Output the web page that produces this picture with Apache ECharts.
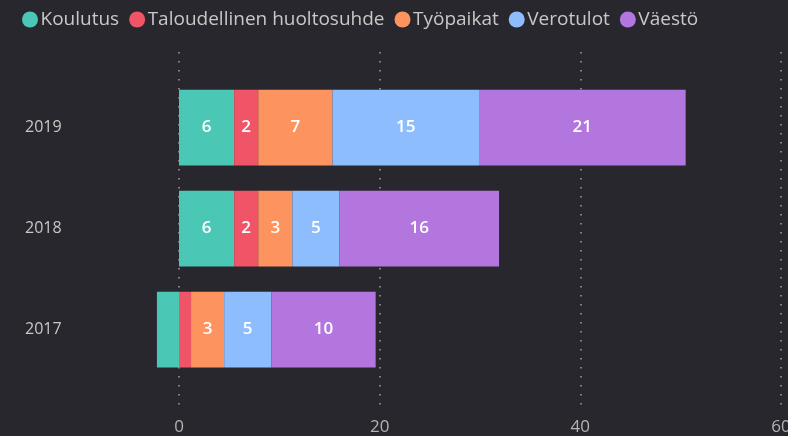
<!DOCTYPE html>
<html>
<head>
<meta charset="utf-8">
<script src="https://cdn.jsdelivr.net/npm/echarts@6/dist/echarts.min.js"></script>
<style>
    html, body { margin: 0; padding: 0; background: #28272d; }
    #chart { width: 788px; height: 436px; }
</style>
</head>
<body>
<div id="chart"></div>
<script>
// categories, bottom to top
const years = ['2017', '2018', '2019'];

const seriesNames = ['Koulutus', 'Taloudellinen huoltosuhde', 'Työpaikat', 'Verotulot', 'Väestö'];
const koulutus = [-2.2, 5.5, 5.5];
const talous = [1.2, 2.4, 2.4];
const tyopaikat = [3.3, 3.4, 7.4];
const verotulot = [4.7, 4.7, 14.6];
const vaesto = [10.4, 15.9, 20.6];

const xTicks = [0, 20, 40, 60];

const colors = ['#4bc8b5', '#ef5567', '#fd9460', '#8ebdfe', '#b376de'];
const font = '"Open Sans", sans-serif';
const MIN_LABEL = 2.3; // segments narrower than this get no label

const chart = echarts.init(document.getElementById('chart'));

const values = [koulutus, talous, tyopaikat, verotulot, vaesto];

const option = {
    backgroundColor: '#28272d',
    color: colors,
    textStyle: { fontFamily: font },
    legend: {
        left: 17,
        top: 5,
        icon: 'circle',
        itemWidth: 17,
        itemHeight: 16,
        itemGap: 10,
        textStyle: {
            color: '#c8c8c8',
            fontSize: 19,
            fontFamily: font,
            padding: [0, 0, 0, -3]
        },
        data: seriesNames
    },
    grid: [
        // gridlines + x labels (Power BI runs the gridlines past the bars)
        { left: 179, right: 7, top: 52, bottom: 24, outerBoundsMode: 'none' },
        // bars
        { left: 179, right: 7, top: 77, bottom: 56, outerBoundsMode: 'none' }
    ],
    xAxis: [
        {
            gridIndex: 0,
            type: 'value',
            min: xTicks[0],
            max: xTicks[xTicks.length - 1],
            interval: xTicks[1] - xTicks[0],
            axisLine: { show: false },
            axisTick: { show: false },
            axisLabel: {
                color: '#b4b4b4',
                fontSize: 17,
                margin: 7,
                fontFamily: font
            },
            splitLine: {
                show: true,
                lineStyle: { color: '#a0a0a0', width: 1.5, type: [1.5, 7.5] }
            }
        },
        {
            gridIndex: 1,
            type: 'value',
            min: xTicks[0],
            max: xTicks[xTicks.length - 1],
            show: false
        }
    ],
    yAxis: [
        {
            gridIndex: 0,
            type: 'category',
            data: years,
            show: false
        },
        {
            gridIndex: 1,
            type: 'category',
            data: years,
            axisLine: { show: false },
            axisTick: { show: false },
            splitLine: { show: false },
            axisLabel: {
                color: '#c8c8c8',
                fontSize: 16,
                align: 'left',
                margin: 154,
                fontFamily: font
            }
        }
    ],
    series: seriesNames.map((name, i) => ({
        name: name,
        type: 'bar',
        stack: 'total',
        xAxisIndex: 1,
        yAxisIndex: 1,
        barWidth: '75%',
        clip: false,
        label: {
            show: true,
            position: 'inside',
            color: '#ffffff',
            fontSize: 17,
            fontWeight: 600,
            fontFamily: font,
            formatter: p => Math.abs(p.value) >= MIN_LABEL ? String(Math.round(p.value)) : ''
        },
        itemStyle: { color: colors[i] },
        data: values[i]
    }))
};

chart.setOption(option);
</script>
</body>
</html>
